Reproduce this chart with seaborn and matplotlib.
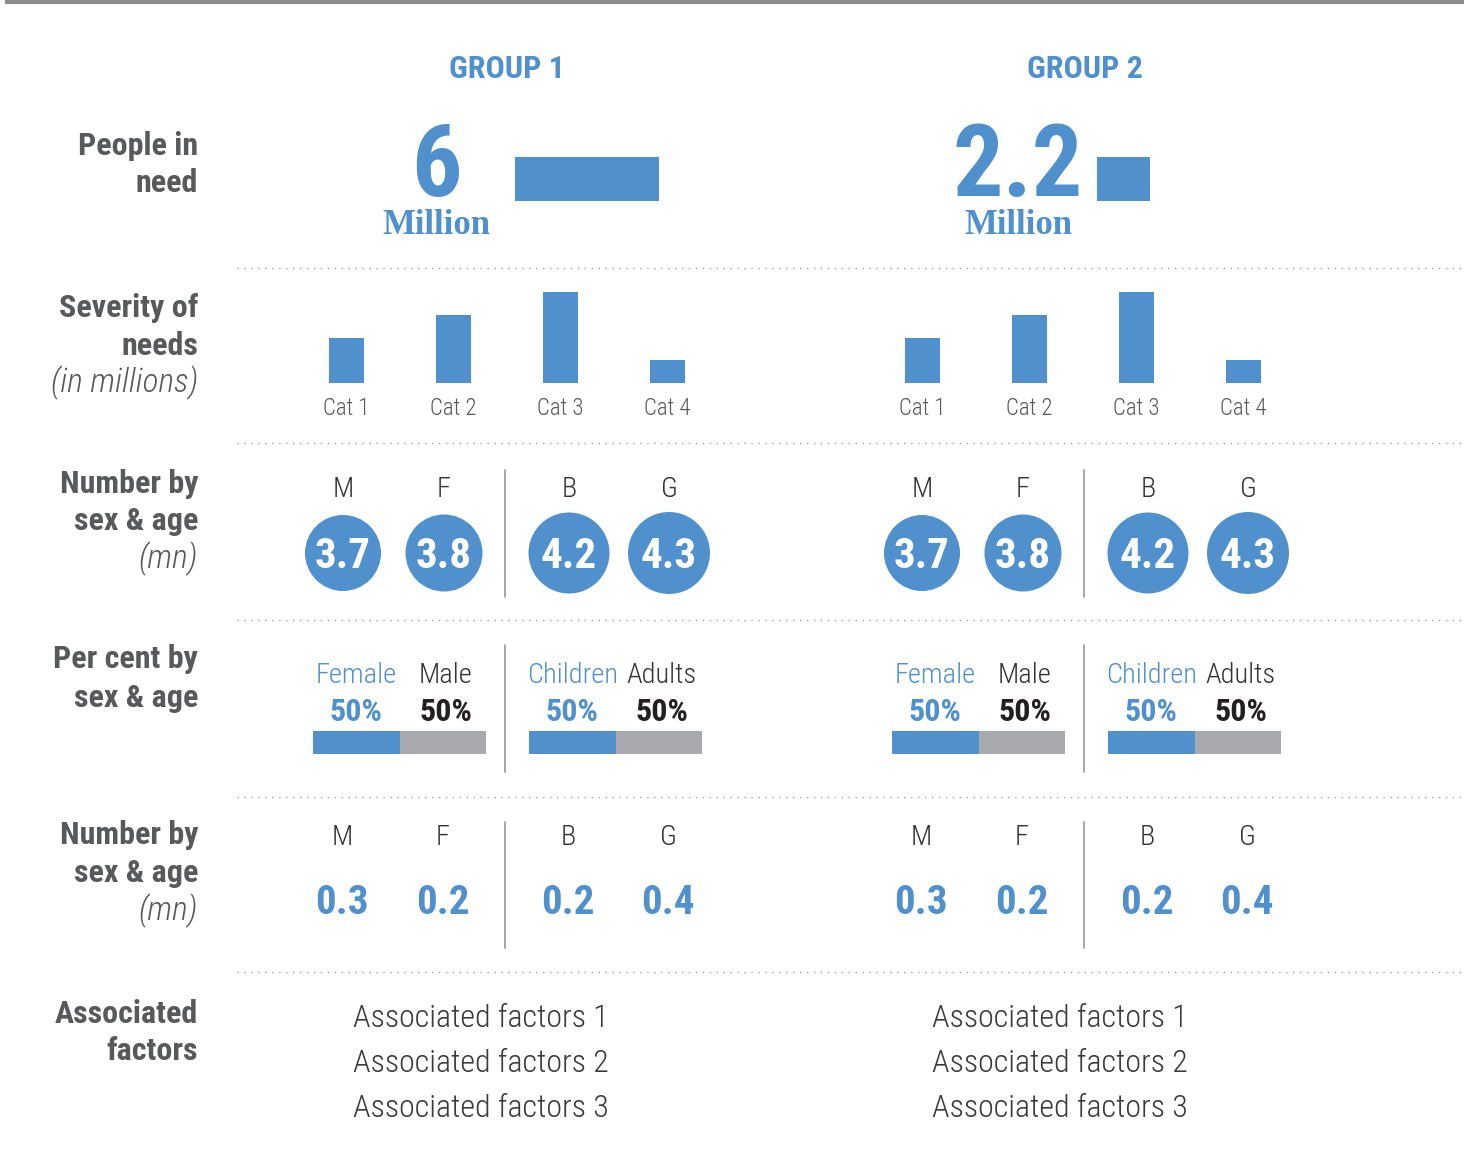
import matplotlib
matplotlib.use("Agg")
import matplotlib.pyplot as plt
from matplotlib import font_manager
import seaborn as sns
import pandas as pd

group_names = ["GROUP 1", "GROUP 2"]
people_in_need = [6, 2.2]          # millions
people_text = ["6", "2.2"]

severity_cats = ["Cat 1", "Cat 2", "Cat 3", "Cat 4"]
severity_g1 = [2, 3, 4, 1]
severity_g2 = [2, 3, 4, 1]

sexage_cats = ["M", "F", "B", "G"]
sexage_g1 = [3.7, 3.8, 4.2, 4.3]
sexage_g2 = [3.7, 3.8, 4.2, 4.3]

pct_sex_labels = ["Female", "Male"]
pct_age_labels = ["Children", "Adults"]
pct_female = [50, 50]
pct_children = [50, 50]

small_g1 = [0.3, 0.2, 0.2, 0.4]
small_g2 = [0.3, 0.2, 0.2, 0.4]

factors_g1 = ["Associated factors 1", "Associated factors 2", "Associated factors 3"]
factors_g2 = ["Associated factors 1", "Associated factors 2", "Associated factors 3"]

severity = [severity_g1, severity_g2]
sexage = [sexage_g1, sexage_g2]
small = [small_g1, small_g2]
factors = [factors_g1, factors_g2]

# ---- style ----
BLUE = "#4f90cd"
GREY_BAR = "#a7a9ac"
LABEL = "#58595b"
DARK = "#333333"

names = {f.name for f in font_manager.fontManager.ttflist}
family = "Roboto Condensed" if "Roboto Condensed" in names else "Roboto"
serif = "Roboto Slab" if "Roboto Slab" in names else "Liberation Serif"

sns.set_theme(style="white")
plt.rcParams["font.family"] = [family, "DejaVu Sans"]

W, H = 1464, 1157
fig = plt.figure(figsize=(W / 100, H / 100), dpi=100)
bg = fig.add_axes([0, 0, 1, 1])
bg.set_xlim(0, W)
bg.set_ylim(H, 0)
bg.axis("off")


def px_axes(x0, y0, x1, y1):
    # axes placed in pixel coordinates (top-left origin)
    ax = fig.add_axes([x0 / W, 1 - y1 / H, (x1 - x0) / W, (y1 - y0) / H])
    ax.patch.set_alpha(0)
    return ax


def txt(x, y, s, size, color, weight="normal", ha="center", style="normal", fam=None):
    kw = {}
    if fam is not None:
        kw["family"] = fam
    bg.text(x, y, s, fontsize=size, color=color, fontweight=weight, ha=ha,
            va="baseline", fontstyle=style, **kw)


# top rule and dotted separators
bg.plot([5, W], [2, 2], color="#8c8c8c", lw=3, solid_capstyle="butt")
for y in [268, 443, 620, 797, 972]:
    bg.plot([237, W], [y, y], color="#a0a0a0", lw=1, linestyle=(0, (1, 4)))

# row labels
row_lines = [
    (155, "People in", "bold"), (192, "need", "bold"),
    (317, "Severity of", "bold"), (355, "needs", "bold"), (392, "(in millions)", "italic"),
    (493, "Number by", "bold"), (530, "sex & age", "bold"), (568, "(mn)", "italic"),
    (668, "Per cent by", "bold"), (707, "sex & age", "bold"),
    (844, "Number by", "bold"), (882, "sex & age", "bold"), (920, "(mn)", "italic"),
    (1023, "Associated", "bold"), (1060, "factors", "bold"),
]
for y, s, kind in row_lines:
    if kind == "bold":
        txt(198, y, s, 23, LABEL, weight="bold", ha="right")
    else:
        txt(198, y, s, 24, LABEL, weight="light", ha="right", style="italic")

dx = 579
col_x = [343, 444, 569, 669]
divider_x = 505

for g in range(2):
    off = g * dx

    # group header
    txt(507 + g * 578, 78, group_names[g], 23, BLUE, weight="bold")

    # people in need: big number + bar on a shared scale
    cx = 436 + g * 582
    txt(cx, 196, people_text[g], 72, BLUE, weight="bold")
    txt(cx, 234, "Million", 25, BLUE, weight="bold", fam=[serif, "DejaVu Serif"])
    bx = 515 + g * 582
    ax = px_axes(bx, 157, bx + 24 * max(people_in_need), 201)
    sns.barplot(x=[people_in_need[g]], y=["pin"], orient="h", color=BLUE,
                saturation=1, width=1, linewidth=0, ax=ax)
    ax.set_xlim(0, max(people_in_need))
    ax.set_ylim(0.5, -0.5)
    ax.axis("off")

    # severity of needs
    sx = 293 + g * 576
    ax = px_axes(sx, 292, sx + 428, 383)
    df = pd.DataFrame({"cat": severity_cats, "val": severity[g]})
    sns.barplot(data=df, x="cat", y="val", color=BLUE, saturation=1,
                width=0.33, linewidth=0, ax=ax)
    ax.set_ylim(0, max(max(s) for s in severity))
    ax.set_xlim(-0.5, 3.5)
    sns.despine(ax=ax, left=True, bottom=True)
    ax.set_yticks([])
    ax.set_xlabel("")
    ax.set_ylabel("")
    ax.tick_params(axis="x", length=0, pad=10, labelsize=16.5, labelcolor=LABEL)
    for t in ax.get_xticklabels():
        t.set_fontweight("light")

    # number by sex & age: circles sized by value
    xs = [x + off for x in col_x]
    df = pd.DataFrame({"x": xs, "y": [553] * 4, "v": sexage[g]})
    sns.scatterplot(data=df, x="x", y="y", size="v", sizes=(0, 3481),
                    size_norm=(0, max(max(s) for s in sexage)), color=BLUE,
                    linewidth=0, legend=False, ax=bg)
    for x, c, v in zip(xs, sexage_cats, sexage[g]):
        txt(x, 497, c, 20.5, DARK, weight="light")
        txt(x, 568, f"{v:.1f}", 31, "white", weight="bold")
    bg.plot([divider_x + off] * 2, [470, 597], color="#a0a0a0", lw=1.3)

    # per cent by sex & age
    pairs = [(pct_sex_labels, pct_female[g], 313), (pct_age_labels, pct_children[g], 529)]
    for labels, share, x0 in pairs:
        x0 = x0 + off
        ax = px_axes(x0, 731, x0 + 173, 754)
        sns.barplot(x=[100], y=["p"], orient="h", color=GREY_BAR, saturation=1,
                    width=1, linewidth=0, ax=ax)
        sns.barplot(x=[share], y=["p"], orient="h", color=BLUE, saturation=1,
                    width=1, linewidth=0, ax=ax)
        ax.set_xlim(0, 100)
        ax.set_ylim(0.5, -0.5)
        ax.axis("off")
        c1 = x0 + 173 * share / 200
        c2 = x0 + 173 * (share + 100) / 200 + 3
        txt(c1, 683, labels[0], 20.5, BLUE, weight="light")
        txt(c2, 683, labels[1], 20.5, DARK, weight="light")
        txt(c1, 721, f"{share}%", 23, BLUE, weight="bold")
        txt(c2, 721, f"{100 - share}%", 23, "#231f20", weight="bold")
    bg.plot([divider_x + off] * 2, [645, 772], color="#a0a0a0", lw=1.3)

    # number by sex & age (small values)
    for x, c, v in zip(xs, sexage_cats, small[g]):
        txt(x - 1, 845, c, 20.5, DARK, weight="light")
        txt(x - 1, 914, f"{v:.1f}", 29.5, BLUE, weight="bold")
    bg.plot([divider_x + off] * 2, [822, 948], color="#a0a0a0", lw=1.3)

    # associated factors
    for i, s in enumerate(factors[g]):
        txt(353 + off, 1027 + 45 * i, s, 23, "#3a3a3a", weight="light", ha="left")

fig.savefig("out.png", dpi=100)
